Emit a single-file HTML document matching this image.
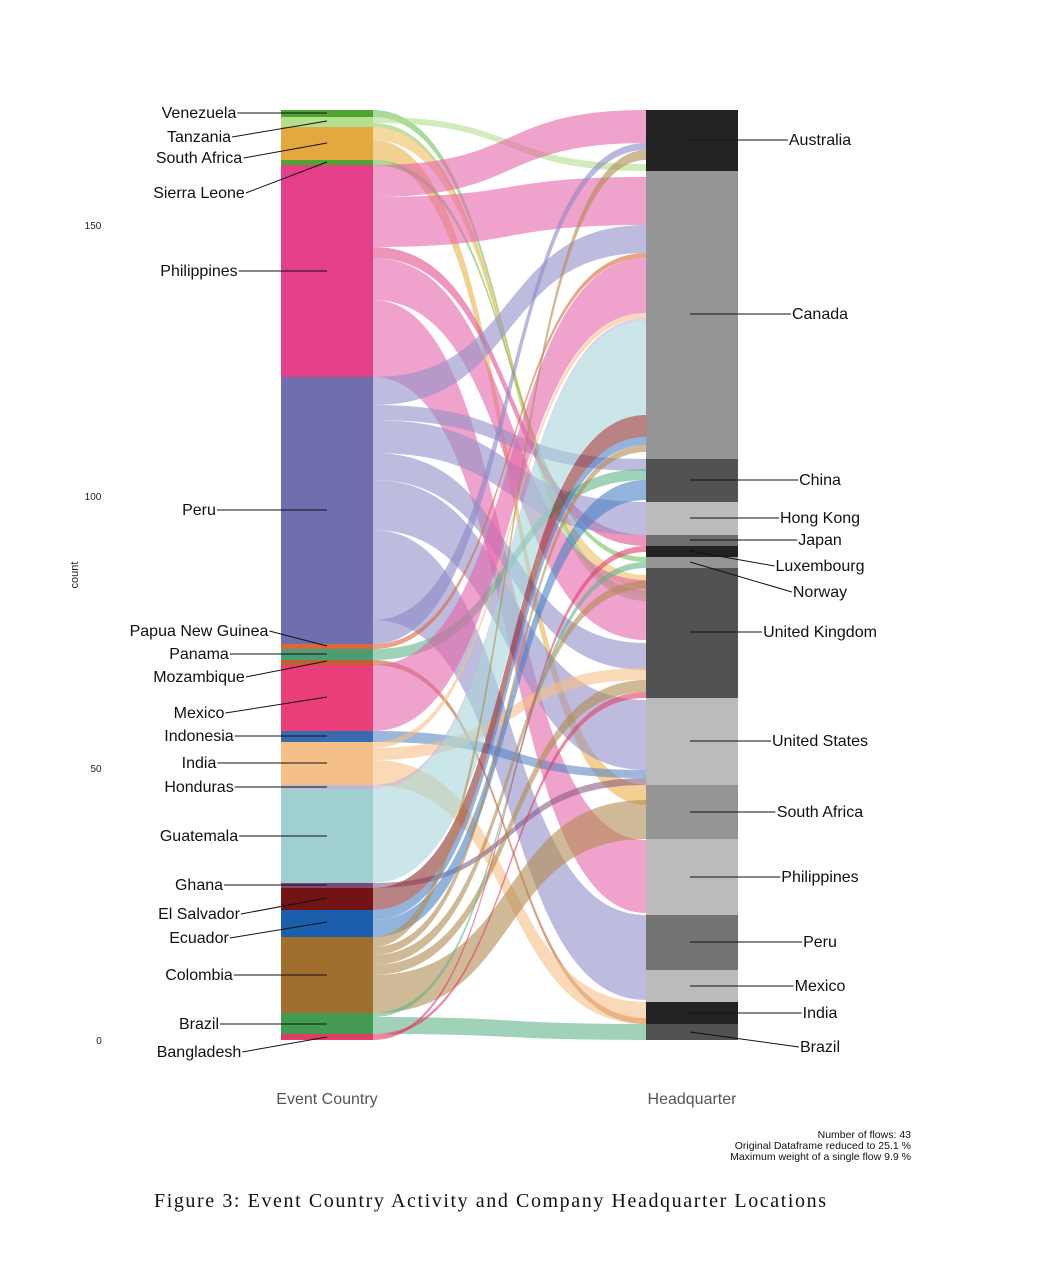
<!DOCTYPE html>
<html><head><meta charset="utf-8"><style>
html,body{margin:0;padding:0;background:#fff;}
svg{display:block;font-family:"Liberation Sans",sans-serif;}
</style></head><body>
<svg id="s" width="1046" height="1274" viewBox="0 0 1046 1274" xmlns="http://www.w3.org/2000/svg">
<g id="flows"></g>
<g id="nodes"></g>
<g id="labels" font-size="16" fill="#111"></g>
<g font-size="10" fill="#222">
<text x="93" y="229" text-anchor="middle">150</text>
<text x="93" y="500" text-anchor="middle">100</text>
<text x="96" y="772" text-anchor="middle">50</text>
<text x="99" y="1044" text-anchor="middle">0</text>
<text transform="translate(78,575) rotate(-90)" text-anchor="middle" font-size="11">count</text>
</g>
<text x="327" y="1104" text-anchor="middle" font-size="16" fill="#555">Event Country</text>
<text x="692" y="1104" text-anchor="middle" font-size="16" fill="#555">Headquarter</text>
<g font-size="10.5" fill="#111" text-anchor="end">
<text x="911" y="1138">Number of flows: 43</text>
<text x="911" y="1149">Original Dataframe reduced to 25.1 %</text>
<text x="911" y="1160">Maximum weight of a single flow 9.9 %</text>
</g>
<text x="154" y="1207" font-family="'Liberation Serif',serif" font-size="20" fill="#111" textLength="672" lengthAdjust="spacing">Figure 3:  Event Country Activity and Company Headquarter Locations</text>
</svg>
<script>
var NS="http://www.w3.org/2000/svg";
function el(p,t,a){var e=document.createElementNS(NS,t);for(var k in a)e.setAttribute(k,a[k]);document.getElementById(p).appendChild(e);return e;}
var L=[["Venezuela",110,117,"#4fa52f"],["Tanzania",117,127,"#b3e08c"],["South Africa",127,160,"#e3a93f"],["Sierra Leone",160,165,"#4fa52f"],["Philippines",165,377,"#e43f89"],["Peru",377,644,"#716eb0"],["Papua New Guinea",644,649,"#d9683a"],["Panama",649,660,"#4b9e73"],["Mozambique",660,665,"#c0612f"],["Mexico",665,731,"#ea3e7b"],["Indonesia",731,742,"#386bb0"],["India",742,785,"#f5c087"],["Honduras",785,789,"#c3b4d7"],["Guatemala",789,883,"#9fcfd1"],["Ghana",883,888,"#7d4a75"],["El Salvador",888,910,"#721413"],["Ecuador",910,937,"#1b5eab"],["Colombia",937,1013,"#a06f2e"],["Brazil",1013,1034,"#459a52"],["Bangladesh",1034,1040,"#e03d64"]];
var R=[["Australia",110,171,"#222"],["Canada",171,459,"#959595"],["China",459,502,"#525252"],["Hong Kong",502,535,"#bbb"],["Japan",535,546,"#6e6e6e"],["Luxembourg",546,557,"#222"],["Norway",557,568,"#959595"],["United Kingdom",568,698,"#525252"],["United States",698,785,"#bbb"],["South Africa",785,839,"#959595"],["Philippines",839,915,"#bbb"],["Peru",915,970,"#737373"],["Mexico",970,1002,"#bbb"],["India",1002,1024,"#222"],["Brazil",1024,1040,"#525252"]];
var F=[
[110,117,590,597,"#6fbf5a"],[117,123,164,171,"#b3e08c"],[123,127,597,601,"#8fcf6a"],
[127,140,575,588,"#ecc060"],[140,160,785,805,"#e8b04a"],[160,165,557,562,"#6fbf5a"],
[165,197,110,143,"#e564a8"],[197,247,177,225,"#e564a8"],[247,258,535,546,"#e0508f"],[258,300,580,640,"#e564a8"],[300,377,840,913,"#e564a8"],
[377,405,225,253,"#9290c8"],[405,420,459,471,"#9290c8"],[420,453,502,535,"#9290c8"],[453,480,643,670,"#9290c8"],[480,530,700,770,"#9290c8"],[530,620,915,1000,"#9290c8"],[620,644,143,150,"#8a88c4"],
[644,649,253,258,"#d9683a"],[649,660,469,480,"#5fb489"],[660,665,1018,1024,"#c0612f"],
[665,731,258,313,"#e564a8"],[731,742,770,778,"#5a86c4"],
[742,748,313,318,"#f5c087"],[748,760,668,680,"#f5c087"],[760,785,1002,1024,"#f5c087"],[785,789,318,321,"#c3b4d7"],
[789,883,321,415,"#a8d5d8"],[883,888,778,785,"#8a5a85"],[888,910,415,437,"#8c3030"],
[910,920,437,445,"#4a80c4"],[920,937,480,500,"#4a80c4"],
[937,947,150,160,"#b08a50"],[947,955,445,452,"#b08a50"],[955,965,581,589,"#b08a50"],[965,975,680,692,"#b08a50"],[975,1013,800,839,"#b08a50"],
[1013,1017,562,568,"#5fb489"],[1017,1034,1024,1040,"#5fb489"],[1034,1037,692,698,"#e03d64"],[1037,1040,546,552,"#e03d64"]];
var x0=373,x1=646,c0=x0+150,c1=x1-150;
F.forEach(function(f){var d="M"+x0+","+f[0]+"C"+c0+","+f[0]+" "+c1+","+f[2]+" "+x1+","+f[2]+"L"+x1+","+f[3]+"C"+c1+","+f[3]+" "+c0+","+f[1]+" "+x0+","+f[1]+"Z";el("flows","path",{d:d,fill:f[4],"fill-opacity":0.6});});
L.forEach(function(n){el("nodes","rect",{x:281,y:n[1],width:92,height:n[2]-n[1],fill:n[3]});});
R.forEach(function(n){el("nodes","rect",{x:646,y:n[1],width:92,height:n[2]-n[1],fill:n[3]});});
var LL=[["Venezuela",199,113,113],["Tanzania",199,137,121],["South Africa",199,158,143],["Sierra Leone",199,193,162],["Philippines",199,271,271],["Peru",199,510,510],["Papua New Guinea",199,631,646],["Panama",199,654,654],["Mozambique",199,677,661],["Mexico",199,713,697],["Indonesia",199,736,736],["India",199,763,763],["Honduras",199,787,787],["Guatemala",199,836,836],["Ghana",199,885,885],["El Salvador",199,914,898],["Ecuador",199,938,922],["Colombia",199,975,975],["Brazil",199,1024,1024],["Bangladesh",199,1052,1037]];
var ctx=document.createElement("canvas").getContext("2d");ctx.font="16px 'Liberation Sans'";
LL.forEach(function(l){var t=el("labels","text",{x:l[1],y:l[2]+5,"text-anchor":"middle"});t.textContent=l[0];var w=ctx.measureText(l[0]).width;el("labels","line",{x1:l[1]+w/2+1,y1:l[2],x2:327,y2:l[3],stroke:"#111","stroke-width":1});});
var RL=[["Australia",820,140,140],["Canada",820,314,314],["China",820,480,480],["Hong Kong",820,518,518],["Japan",820,540,540],["Luxembourg",820,566,551],["Norway",820,592,562],["United Kingdom",820,632,632],["United States",820,741,741],["South Africa",820,812,812],["Philippines",820,877,877],["Peru",820,942,942],["Mexico",820,986,986],["India",820,1013,1013],["Brazil",820,1047,1032]];
RL.forEach(function(l){var t=el("labels","text",{x:l[1],y:l[2]+5,"text-anchor":"middle"});t.textContent=l[0];var w=ctx.measureText(l[0]).width;el("labels","line",{x1:690,y1:l[3],x2:l[1]-w/2-1,y2:l[2],stroke:"#111","stroke-width":1});});
</script>
</body></html>
